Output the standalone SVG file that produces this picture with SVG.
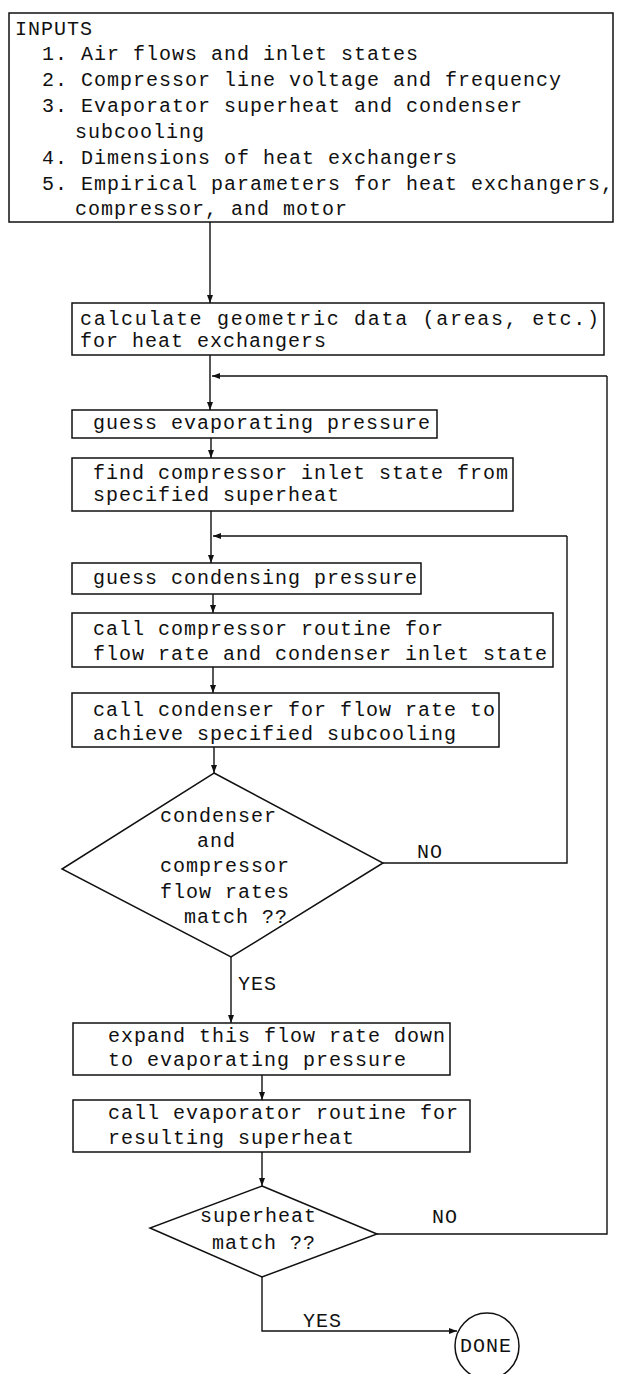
<svg xmlns="http://www.w3.org/2000/svg" width="622" height="1374" viewBox="0 0 622 1374">
<style>
.t{font-family:"Liberation Mono","DejaVu Sans Mono",monospace;font-size:20px;letter-spacing:1px;fill:#111}
.b{fill:#fff;stroke:#111;stroke-width:1.5}
.c{fill:none;stroke:#111;stroke-width:1.4}
.a{marker-end:url(#ah)}
</style>
<defs>
<marker id="ah" viewBox="0 0 8 6" refX="8" refY="3" markerWidth="8" markerHeight="6" orient="auto" markerUnits="userSpaceOnUse"><path d="M0,0 L8,3 L0,6 z" fill="#111"/></marker>
</defs>
<rect width="622" height="1374" fill="#fff"/>
<g id="connectors">
<path class="c a" d="M210,222 V303"/>
<path class="c a" d="M210,355 V410"/>
<path class="c a" d="M607,376 H212"/>
<path class="c a" d="M211,438 V458"/>
<path class="c a" d="M211,511 V563"/>
<path class="c a" d="M567,536 H213"/>
<path class="c a" d="M213,594 V613"/>
<path class="c a" d="M213,667 V693"/>
<path class="c a" d="M214,747 V773"/>
<path class="c" d="M382,863 H567 V536"/>
<path class="c a" d="M231,957 V1023"/>
<path class="c a" d="M262,1075 V1100"/>
<path class="c a" d="M262,1152 V1186"/>
<path class="c" d="M377,1234 H607 V376"/>
<path class="c a" d="M262,1277 V1331 H457"/>
<text class="t" x="417" y="858">NO</text>
<text class="t" x="238" y="990">YES</text>
<text class="t" x="432" y="1223">NO</text>
<text class="t" x="303" y="1327">YES</text>
</g>
<g id="inputs">
<rect class="b" x="9" y="13" width="604" height="209"/>
<text class="t" x="15" y="35">INPUTS</text>
<text class="t" x="42" y="60">1. Air flows and inlet states</text>
<text class="t" x="42" y="86">2. Compressor line voltage and frequency</text>
<text class="t" x="42" y="112">3. Evaporator superheat and condenser</text>
<text class="t" x="75" y="138">subcooling</text>
<text class="t" x="42" y="164">4. Dimensions of heat exchangers</text>
<text class="t" x="42" y="190">5. Empirical parameters for heat exchangers,</text>
<text class="t" x="75" y="215">compressor, and motor</text>
</g>
<g id="calc">
<rect class="b" x="72" y="303" width="532" height="52"/>
<text class="t" x="80" y="325" textLength="520">calculate geometric data (areas, etc.)</text>
<text class="t" x="80" y="347">for heat exchangers</text>
</g>
<g id="guess-evap">
<rect class="b" x="72" y="410" width="365" height="28"/>
<text class="t" x="93" y="429">guess evaporating pressure</text>
</g>
<g id="find-inlet">
<rect class="b" x="72" y="458" width="441" height="53"/>
<text class="t" x="93" y="479">find compressor inlet state from</text>
<text class="t" x="93" y="501">specified superheat</text>
</g>
<g id="guess-cond">
<rect class="b" x="72" y="563" width="349" height="31"/>
<text class="t" x="93" y="584">guess condensing pressure</text>
</g>
<g id="call-comp">
<rect class="b" x="72" y="613" width="481" height="54"/>
<text class="t" x="93" y="635">call compressor routine for</text>
<text class="t" x="93" y="660">flow rate and condenser inlet state</text>
</g>
<g id="call-cond">
<rect class="b" x="72" y="693" width="427" height="54"/>
<text class="t" x="93" y="716">call condenser for flow rate to</text>
<text class="t" x="93" y="740">achieve specified subcooling</text>
</g>
<g id="match-flow">
<path class="b" d="M214,773 L383,863 L231,957 L62,869 Z"/>
<text class="t" x="160" y="822">condenser</text>
<text class="t" x="197" y="847">and</text>
<text class="t" x="160" y="872">compressor</text>
<text class="t" x="160" y="898">flow rates</text>
<text class="t" x="184" y="923">match ??</text>
</g>
<g id="expand">
<rect class="b" x="73" y="1023" width="377" height="52"/>
<text class="t" x="108" y="1042">expand this flow rate down</text>
<text class="t" x="108" y="1066">to evaporating pressure</text>
</g>
<g id="call-evap">
<rect class="b" x="73" y="1100" width="397" height="52"/>
<text class="t" x="108" y="1119">call evaporator routine for</text>
<text class="t" x="108" y="1144">resulting superheat</text>
</g>
<g id="match-superheat">
<path class="b" d="M262,1186 L377,1234 L262,1277 L150,1228 Z"/>
<text class="t" x="200" y="1222">superheat</text>
<text class="t" x="212" y="1249">match ??</text>
</g>
<g id="done">
<ellipse class="b" cx="487" cy="1346" rx="32" ry="33"/>
<text class="t" x="486" y="1352" text-anchor="middle" letter-spacing="0">DONE</text>
</g>
</svg>
